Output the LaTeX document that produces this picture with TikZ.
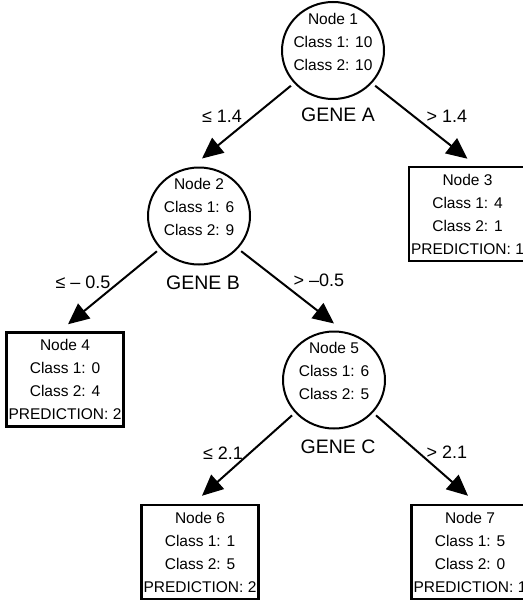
\documentclass[tikz,border=0pt]{standalone}
\usepackage{fontspec}
\setmainfont{Liberation Sans}
\usetikzlibrary{arrows.meta,shapes.geometric}

\begin{document}
\begin{tikzpicture}[x=1pt,y=-1pt,
  split/.style={ellipse, draw, line width=2pt, minimum width=102pt,
    minimum height=97pt, inner sep=0pt},
  counts/.style={align=center, inner sep=0pt,
    font=\fontsize{15.5}{23}\selectfont},
  leaf/.style={rectangle, draw, line width=2.5pt, minimum width=117pt,
    minimum height=94pt, inner sep=0pt, align=center,
    font=\fontsize{15.5}{23}\selectfont},
  gene/.style={inner sep=0pt, font=\fontsize{19.5}{22}\selectfont},
  cut/.style={inner sep=0pt, font=\fontsize{18}{20}\selectfont},
  branch/.style={line width=2pt, -{Triangle[length=21pt,width=19pt]},
    shorten <=4pt}]

\useasboundingbox (0,0) rectangle (522,602);

% split nodes
\node[split, label={[counts, yshift=9pt]center:{Node 1\\Class 1: 10\\Class 2: 10}}] (n1) at (333,50.5) {};
\node[split, label={[counts, yshift=9pt]center:{Node 2\\Class 1: 6\\Class 2: 9}}] (n2) at (199,216) {};
\node[split, label={[counts, yshift=9pt]center:{Node 5\\Class 1: 6\\Class 2: 5}}] (n5) at (334,380) {};

% leaves
\node[leaf] (b3) at (467.5,214) {Node 3\\Class 1: 4\\Class 2: 1\\PREDICTION: 1};
\node[leaf] (b4) at (65,379.5) {Node 4\\Class 1: 0\\Class 2: 4\\PREDICTION: 2};
\node[leaf] (b6) at (200,552) {Node 6\\Class 1: 1\\Class 2: 5\\PREDICTION: 2};
\node[leaf] (b7) at (470,552) {Node 7\\Class 1: 5\\Class 2: 0\\PREDICTION: 1};

% splitting variables
\node[gene] (ga) at (338,115) {GENE A};
\node[gene] (gb) at (203,283) {GENE B};
\node[gene] (gc) at (338,447) {GENE C};

% thresholds
\node[cut] (t1) at (222,116) {≤ 1.4};
\node[cut] (t2) at (447,116) {> 1.4};
\node[cut] (t3) at (83,282) {≤ – 0.5};
\node[cut] (t4) at (319,280) {> –0.5};
\node[cut] (t5) at (223,453) {≤ 2.1};
\node[cut] (t6) at (447,452) {> 2.1};

% branches
\draw[branch] (n1.220) -- ([xshift=3pt,yshift=8pt]n2.north);
\draw[branch] (n1.320) -- ([yshift=7pt]b3.north);
\draw[branch] (n2.220) -- ([xshift=3pt,yshift=7pt]b4.north);
\draw[branch] (n2.320) -- ([yshift=7pt]n5.north);
\draw[branch] (n5.220) -- ([xshift=2pt,yshift=8pt]b6.north);
\draw[branch] (n5.320) -- ([xshift=-2pt,yshift=8pt]b7.north);
\end{tikzpicture}
\end{document}
